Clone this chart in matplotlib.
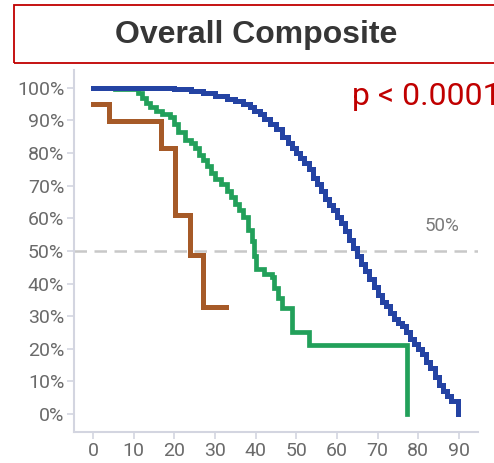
import matplotlib
matplotlib.use("Agg")
import matplotlib.pyplot as plt
from matplotlib.patches import Rectangle

# Kaplan-Meier style curves, survival in percent
blue_t = [0, 20, 24, 27, 30, 33, 35, 37, 38.5, 39.5, 41, 42, 43.5, 45, 46.5,
          48, 49, 50, 51, 52, 53, 54, 55, 56, 57, 58, 59, 60, 61, 62, 63, 64,
          65, 66, 67, 68, 69, 70, 71, 72, 73, 74, 75, 76, 77, 78, 79, 80, 81,
          82, 83, 84, 85, 86, 87, 88, 89.8]
blue_s = [100, 99.5, 99, 98.5, 97.5, 96.5, 96, 95, 94, 93, 92, 90.5, 89, 87.5,
          85, 83, 81.5, 80, 78.5, 77, 75, 72.5, 70.5, 68.5, 66, 64, 62.5, 60.5,
          58.5, 56, 53.5, 51, 48.5, 46, 44, 41.5, 39, 36.5, 34.5, 33, 31, 29,
          28, 27, 25, 23, 21.5, 20, 18.5, 16, 14, 11.5, 9, 7, 5.5, 4, 0]

green_t = [5.5, 11, 12, 13, 14, 15.5, 17, 19, 20, 21, 22.5, 24, 25, 26, 27,
           28, 29, 30, 31.5, 33, 34, 35, 36, 37, 38, 39, 39.5, 40, 42, 44,
           44.5, 45.5, 46.5, 49, 53, 77.2]
green_s = [99.5, 98.5, 97, 95.5, 94, 93, 92, 91, 89, 86.5, 84, 83, 81.5, 79.5,
           78, 76, 74, 72, 70.5, 68.5, 66.5, 64.5, 62.5, 60.5, 56.5, 53, 48.5,
           44.5, 43, 42, 38.5, 35.5, 32.5, 25.2, 21.2, 0]

brown_t = [0, 4, 16.7, 20.2, 23.9, 27.1, 32.6]
brown_s = [95, 89.9, 81.5, 61, 48.8, 32.7, 32.7]

x_ticks = [0, 10, 20, 30, 40, 50, 60, 70, 80, 90]
y_ticks = [0, 10, 20, 30, 40, 50, 60, 70, 80, 90, 100]

title = "Overall Composite"
p_text = "p < 0.0001"
median_label = "50%"

fig = plt.figure(figsize=(4.94, 4.63), dpi=100)
ax = fig.add_axes([0.1498, 0.067, 0.8178, 0.782])

ax.axhline(50, color="#c8c8c8", lw=1.8, dashes=(5, 3), zorder=1)
ax.plot(brown_t, brown_s, drawstyle="steps-post", color="#a65a28", lw=3.6,
        solid_joinstyle="miter", zorder=3)
ax.plot(green_t, green_s, drawstyle="steps-post", color="#22a05a", lw=3.4,
        solid_joinstyle="miter", zorder=3)
ax.plot(blue_t, blue_s, drawstyle="steps-post", color="#2443a3", lw=3.6,
        solid_joinstyle="miter", zorder=4)

ax.set_xlim(-4.7, 94.7)
ax.set_ylim(-5.5, 105.5)
ax.set_xticks(x_ticks)
ax.set_yticks(y_ticks)
ax.set_yticklabels([f"{v}%" for v in y_ticks])
for side in ("top", "right"):
    ax.spines[side].set_visible(False)
for side in ("left", "bottom"):
    ax.spines[side].set_color("#d3d5e0")
    ax.spines[side].set_linewidth(1.5)
ax.tick_params(colors="#d3d5e0", labelcolor="#6a6a6a", length=5, width=1.2,
               labelsize=14, pad=2)
for lab in ax.get_xticklabels() + ax.get_yticklabels():
    lab.set_family("Roboto")

ax.text(0.911, 0.568, median_label, transform=ax.transAxes, ha="center",
        va="center", color="#7a7a7a", fontsize=13.5, family="Roboto")

# title box (runs past the right edge like the reference)
fig.patches.append(Rectangle((14 / 494, 1 - 63 / 463), 0.99, 58 / 463,
                             transform=fig.transFigure, fill=False,
                             edgecolor="#c00000", lw=1.3))
fig.text(256 / 494, 1 - 35 / 463, title, ha="center", va="center",
         fontsize=23, fontweight="bold", color="#363636",
         family="Liberation Sans")
fig.text(352 / 494, 1 - 105 / 463, p_text, ha="left", va="baseline",
         fontsize=23, color="#c00000", family="Roboto")

fig.savefig("out.png", dpi=100)
